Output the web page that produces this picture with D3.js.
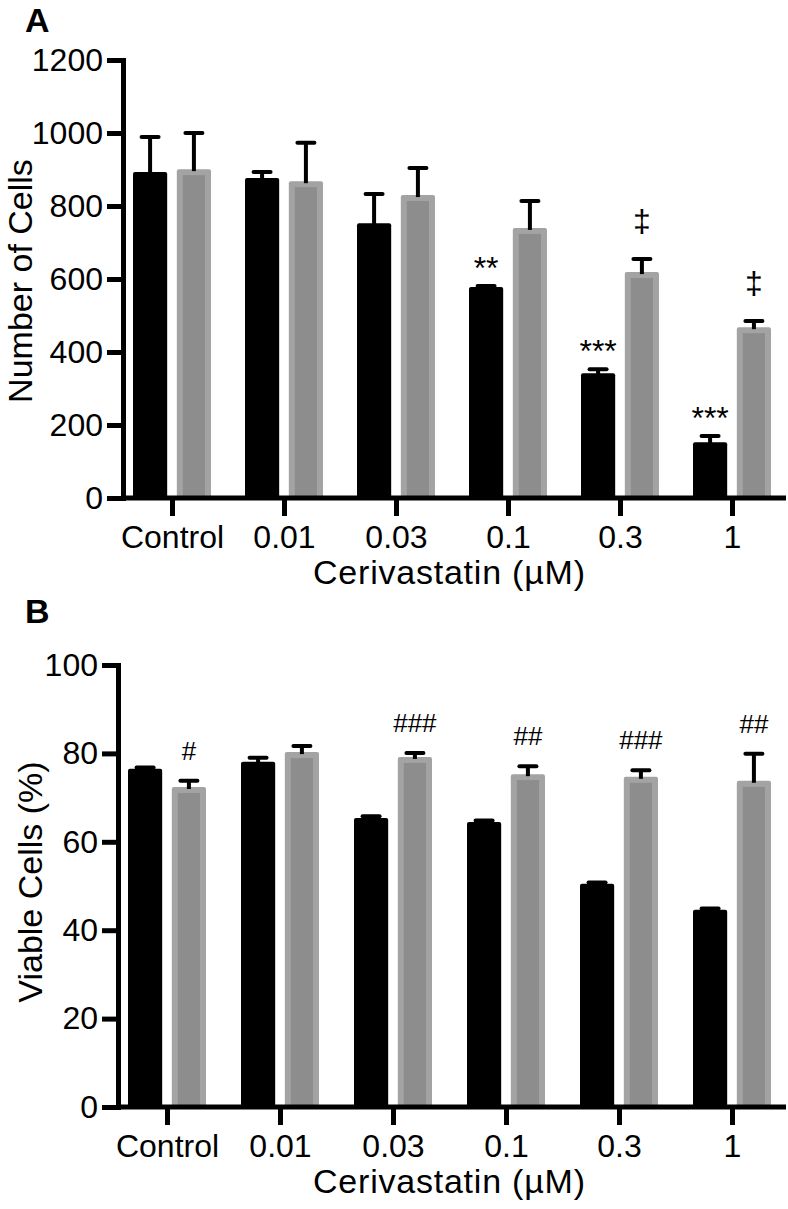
<!DOCTYPE html>
<html>
<head>
<meta charset="utf-8">
<script src="https://cdn.jsdelivr.net/npm/d3@7"></script>
<style>
  html, body { margin: 0; padding: 0; background: #fff; }
  svg { display: block; }
  text { font-family: "Liberation Sans", Arial, Helvetica, sans-serif; fill: #000; }
</style>
</head>
<body>
<script>
// ---------- data ----------
const categories = ["Control", "0.01", "0.03", "0.1", "0.3", "1"];
const seriesNames = ["black", "gray"];

// Panel A: Number of Cells
const cellsTicks = [0, 200, 400, 600, 800, 1000, 1200];
const cellsBlack = [893, 877, 753, 578, 342, 153];
const cellsBlackErr = [96, 16, 80, 3, 11, 17];
const cellsGray = [901, 868, 830, 740, 619, 468];
const cellsGrayErr = [99, 105, 74, 74, 36, 17];
const cellsBlackMarks = ["", "", "", "**", "***", "***"];
const cellsGrayMarks = ["", "", "", "", "\u2021", "\u2021"];

// Panel B: Viable Cells (%)
const viableTicks = [0, 20, 40, 60, 80, 100];
const viableBlack = [76.5, 78.1, 65.4, 64.5, 50.5, 44.6];
const viableBlackErr = [0.3, 0.9, 0.4, 0.3, 0.3, 0.3];
const viableGray = [72.4, 80.3, 79.2, 75.3, 74.7, 73.8];
const viableGrayErr = [1.4, 1.4, 0.9, 1.8, 1.5, 6.1];
const viableBlackMarks = ["", "", "", "", "", ""];
const viableGrayMarks = ["#", "", "###", "##", "###", "##"];

// ---------- drawing ----------
const W = 788, H = 1209;
const FONT = "'Liberation Sans', Arial, Helvetica, sans-serif";
const svg = d3.select("body").append("svg")
  .attr("width", W).attr("height", H)
  .attr("viewBox", `0 0 ${W} ${H}`);
svg.append("rect").attr("width", W).attr("height", H).attr("fill", "#fff");

function drawPanel(cfg) {
  const g = svg.append("g");
  const x = d3.scalePoint().domain(categories).range([cfg.xFirst, cfg.xLast]);
  const inner = d3.scaleBand().domain(seriesNames).range([-39, 39]).paddingInner(0.22);
  const y = d3.scaleLinear().domain([0, cfg.yMax]).range([cfg.y0, cfg.yTop]);
  const bw = inner.bandwidth();

  // panel letter
  g.append("text").attr("x", 25).attr("y", cfg.letterY)
    .attr("font-size", 34).attr("font-weight", "bold").text(cfg.letter);

  const rows = categories.map((c, i) => ({
    c, i,
    vals: [
      { s: "black", v: cfg.black[i], e: cfg.blackErr[i], m: cfg.blackMarks[i] },
      { s: "gray", v: cfg.gray[i], e: cfg.grayErr[i], m: cfg.grayMarks[i] }
    ]
  }));

  const grp = g.selectAll("g.cat").data(rows).join("g")
    .attr("class", "cat")
    .attr("transform", d => `translate(${x(d.c)},0)`);

  const bars = grp.selectAll("g.bar").data(d => d.vals).join("g").attr("class", "bar");

  bars.each(function(d) {
    const b = d3.select(this);
    const bx = inner(d.s);
    const top = y(d.v), bot = y(0);
    if (d.s === "black") {
      b.append("rect").attr("x", bx).attr("y", top).attr("width", bw)
        .attr("height", bot - top).attr("rx", 2).attr("fill", "#000");
    } else {
      b.append("rect").attr("x", bx).attr("y", top).attr("width", bw)
        .attr("height", bot - top).attr("rx", 2).attr("fill", "#a3a3a3");
      b.append("rect").attr("x", bx + 6).attr("y", top + 6).attr("width", bw - 12)
        .attr("height", Math.max(0, bot - top - 6)).attr("fill", "#8d8d8d");
    }
    // error bar (upper only)
    const cx = bx + bw / 2;
    const et = y(d.v + d.e);
    b.append("line").attr("x1", cx).attr("x2", cx).attr("y1", top + 2).attr("y2", et)
      .attr("stroke", "#000").attr("stroke-width", 4);
    b.append("line").attr("x1", cx - 8.5).attr("x2", cx + 8.5).attr("y1", et).attr("y2", et)
      .attr("stroke", "#000").attr("stroke-width", 4).attr("stroke-linecap", "round");
    // significance mark
    if (d.m) {
      let off, fs;
      if (d.m[0] === "*") { off = 7; fs = 32; }
      else if (d.m[0] === "#") { off = 21; fs = 26; }
      else { off = 26.5; fs = 32; }
      b.append("text").attr("x", cx).attr("y", et - off)
        .attr("text-anchor", "middle").attr("font-size", fs).text(d.m);
    }
  });

  // y axis
  const yAxis = d3.axisLeft(y).tickValues(cfg.ticks).tickFormat(d3.format("d"))
    .tickSize(16).tickSizeOuter(0).tickPadding(4);
  const ya = g.append("g").attr("transform", `translate(${cfg.yAxisX},0)`).call(yAxis);
  ya.select(".domain").attr("stroke", "#000").attr("stroke-width", 5).attr("stroke-linecap", "square");
  ya.selectAll(".tick line").attr("stroke", "#000").attr("stroke-width", 5);
  ya.selectAll(".tick text").attr("font-size", 32).attr("font-family", FONT).attr("fill", "#000");

  // x axis
  const xAxis = d3.axisBottom(x).tickSize(18).tickSizeOuter(0).tickPadding(9);
  const xa = g.append("g").attr("transform", `translate(0,${cfg.y0})`).call(xAxis);
  xa.select(".domain").attr("d", `M${cfg.yAxisX},0H${cfg.xEnd}`)
    .attr("stroke", "#000").attr("stroke-width", 5);
  xa.selectAll(".tick line").attr("stroke", "#000").attr("stroke-width", 5);
  xa.selectAll(".tick text").attr("font-size", 32).attr("font-family", FONT).attr("fill", "#000");

  // axis titles
  g.append("text").attr("x", 449).attr("y", cfg.xTitleY)
    .attr("text-anchor", "middle").attr("font-size", 34)
    .attr("textLength", 272).attr("lengthAdjust", "spacing")
    .text("Cerivastatin (\u00B5M)");
  g.append("text")
    .attr("transform", `translate(${cfg.yTitleX},${cfg.yTitleY}) rotate(-90)`)
    .attr("text-anchor", "middle").attr("font-size", 34).text(cfg.yTitle);
}

drawPanel({
  letter: "A", letterY: 32,
  black: cellsBlack, blackErr: cellsBlackErr, gray: cellsGray, grayErr: cellsGrayErr,
  blackMarks: cellsBlackMarks, grayMarks: cellsGrayMarks,
  ticks: cellsTicks, yMax: 1200, y0: 498, yTop: 60,
  xFirst: 172, xLast: 732, yAxisX: 123, xEnd: 786,
  xTitleY: 584, yTitleX: 32, yTitleY: 281, yTitle: "Number of Cells"
});

drawPanel({
  letter: "B", letterY: 623,
  black: viableBlack, blackErr: viableBlackErr, gray: viableGray, grayErr: viableGrayErr,
  blackMarks: viableBlackMarks, grayMarks: viableGrayMarks,
  ticks: viableTicks, yMax: 100, y0: 1107, yTop: 665,
  xFirst: 167, xLast: 732, yAxisX: 118, xEnd: 786,
  xTitleY: 1193, yTitleX: 42, yTitleY: 882, yTitle: "Viable Cells (%)"
});
</script>
</body>
</html>
